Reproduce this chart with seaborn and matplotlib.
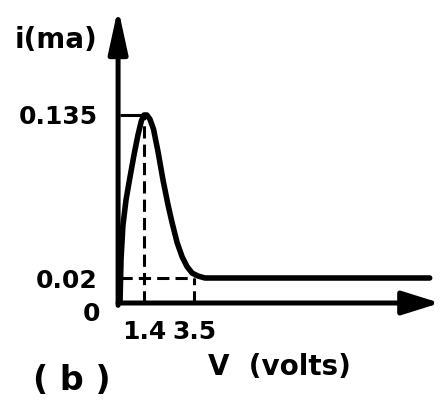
import numpy as np
import pandas as pd
import matplotlib
matplotlib.use("Agg")
import matplotlib.pyplot as plt
import seaborn as sns

# Curve i(V): sharp rise to the peak, fall back to the 0.02 plateau
volts = [0.0, 0.06, 0.17, 0.35, 0.58, 0.82, 1.05, 1.25, 1.4, 1.52, 1.65, 1.8,
         1.99, 2.2, 2.41, 2.58, 2.79, 3.0, 3.21, 3.42, 3.67, 3.96, 13.4]
current = [0.0, 0.033, 0.057, 0.075, 0.091, 0.107, 0.121, 0.131, 0.135, 0.135,
           0.132, 0.125, 0.109, 0.089, 0.0715, 0.059, 0.045, 0.035, 0.028,
           0.0235, 0.0214, 0.02, 0.02]

v_peak, i_peak = 1.4, 0.135
v_knee, i_knee = 3.5, 0.02
x_ticks = [1.4, 3.5]
x_tick_labels = ["1.4", "3.5"]
y_ticks = [0.02, 0.135]
y_tick_labels = ["0.02", "0.135"]

df = pd.DataFrame({"V": volts, "i": current})

# the original sketch is not drawn to scale: piecewise linear axes
xs_data = [-100, 0, 1.4, 3.5, 100]
xs_px = [-1714, 0, 24, 74, 2371]
ys_data = [-1, 0, 0.02, 0.135, 1]
ys_px = [-1250, 0, 25, 188, 1414]


def fx(v):
    return np.interp(v, xs_data, xs_px)


def fx_inv(p):
    return np.interp(p, xs_px, xs_data)


def fy(v):
    return np.interp(v, ys_data, ys_px)


def fy_inv(p):
    return np.interp(p, ys_px, ys_data)


sns.set_style("white")
plt.rcParams["font.family"] = ["DejaVu Sans"]
plt.rcParams["font.weight"] = "bold"
plt.rcParams["text.color"] = "black"
plt.rcParams["axes.labelcolor"] = "black"
plt.rcParams["xtick.color"] = "black"
plt.rcParams["ytick.color"] = "black"

fig = plt.figure(figsize=(4.42, 4.03), dpi=100)
ax = fig.add_axes([120 / 442, 100 / 403, 320 / 442, 295 / 403])
ax.set_xscale("function", functions=(fx, fx_inv))
ax.set_yscale("function", functions=(fy, fy_inv))
ax.set_xlim(0, fx_inv(320))
ax.set_ylim(0, fy_inv(295))

# guide lines
ax.plot([0, v_peak], [i_peak, i_peak], color="black", lw=2.2, solid_capstyle="butt")
ax.plot([v_peak, v_peak], [0, i_peak], color="black", lw=2.2, dashes=(4, 2))
ax.plot([v_knee, v_knee], [0, i_knee], color="black", lw=2.2, dashes=(4, 2))
ax.plot([0, v_knee], [i_knee, i_knee], color="black", lw=2.2, dashes=(4, 2))

sns.lineplot(data=df, x="V", y="i", ax=ax, color="black", lw=4,
             estimator=None, sort=False, solid_joinstyle="round")

# axes as arrows
for s in ax.spines.values():
    s.set_visible(False)
ax.annotate("", xy=(1, 0), xytext=(-0.006, 0), xycoords="axes fraction",
            arrowprops=dict(arrowstyle="-|>,head_length=2.3,head_width=0.72",
                            lw=3.6, color="black", mutation_scale=10,
                            shrinkA=0, shrinkB=0))
ax.annotate("", xy=(-0.006, 1), xytext=(-0.006, -0.008), xycoords="axes fraction",
            arrowprops=dict(arrowstyle="-|>,head_length=2.66,head_width=0.58",
                            lw=3.6, color="black", mutation_scale=10,
                            shrinkA=0, shrinkB=0))

ax.set_xticks(x_ticks)
ax.set_xticklabels(x_tick_labels, fontsize=18, fontweight="bold")
ax.set_yticks(y_ticks)
ax.set_yticklabels(y_tick_labels, fontsize=18, fontweight="bold")
ax.tick_params(axis="x", length=0, pad=12)
ax.tick_params(axis="y", length=0, pad=16)
ax.minorticks_off()

ax.text(-0.0875, -0.037, "0", transform=ax.transAxes, ha="center",
        va="center", fontsize=18, fontweight="bold")
ax.text(-0.2, 0.8915, "i(ma)", transform=ax.transAxes, ha="center",
        va="center", fontsize=20, fontweight="bold")
ax.set_xlabel("V  (volts)", fontsize=20, fontweight="bold")
ax.set_ylabel("")
ax.xaxis.set_label_coords(0.497, -0.217)
ax.xaxis.label.set_va("center")
fig.text(0.163, 0.057, "( b )", ha="center", va="center", fontsize=24,
         fontweight="bold")

fig.savefig("out.png", dpi=100)
